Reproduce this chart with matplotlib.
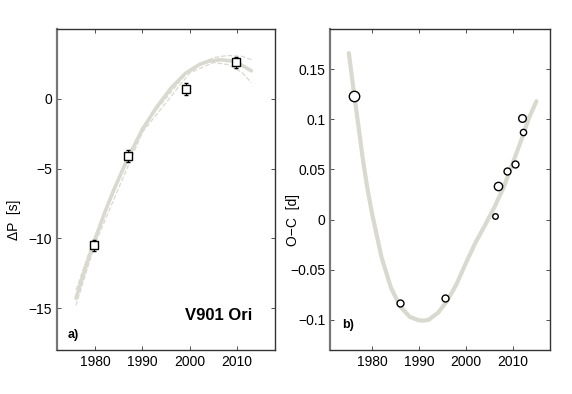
import matplotlib.pyplot as plt
import matplotlib.ticker as mticker

plt.rcParams['font.family'] = ['Liberation Sans', 'DejaVu Sans']

# panel a) period change, with quadratic fit and its band
yrA = [1979.8, 1987.0, 1999.3, 2009.7]
dP = [-10.5, -4.1, 0.7, 2.6]
dPerr = [0.4, 0.4, 0.4, 0.4]

fitA_x = [1976, 1978, 1980, 1982, 1984, 1987, 1990, 1993, 1996, 1999, 2002, 2004, 2006.5, 2009, 2011, 2013]
fitA_y = [-14.3, -12.1, -10.1, -8.2, -6.5, -4.2, -2.2, -0.6, 0.75, 1.8, 2.45, 2.7, 2.8, 2.7, 2.4, 2.0]
bandA_x = [1976, 1980, 1990, 2000, 2005, 2008, 2011, 2013]
bandA_hi = [-13.7, -9.8, -2.0, 2.1, 2.95, 3.1, 3.05, 2.8]
bandA_lo = [-14.8, -10.4, -2.4, 1.85, 2.6, 2.45, 1.9, 1.15]

# panel b) O-C diagram
yrB = [1976.2, 1986.0, 1995.5, 2006.2, 2006.9, 2008.8, 2010.5, 2011.9, 2012.2]
oc = [0.123, -0.083, -0.078, 0.004, 0.033, 0.048, 0.055, 0.101, 0.087]
msB = [7.5, 5, 5, 4, 6, 5, 5, 5.5, 4.5]

fitB_x = [1975, 1976, 1977, 1978, 1979, 1980, 1982, 1984, 1986, 1988, 1990, 1991, 1992, 1994,
          1996, 1998, 2000, 2002, 2004, 2006, 2008, 2010, 2012, 2013.3, 2015]
fitB_y = [0.166, 0.130, 0.095, 0.060, 0.030, 0.005, -0.038, -0.068, -0.087, -0.097, -0.1005, -0.1007,
          -0.100, -0.093, -0.081, -0.064, -0.043, -0.023, -0.006, 0.012, 0.032, 0.057, 0.082, 0.100, 0.118]

fitcol = '#d9d9cf'
axcol = '#333333'

fig = plt.figure(figsize=(5.72, 3.94), dpi=100)
axA = fig.add_axes([0.0997, 0.1117, 0.3813, 0.8147])
axB = fig.add_axes([0.577, 0.1117, 0.3854, 0.8147])

axA.plot(bandA_x, bandA_hi, '--', color=fitcol, lw=0.9)
axA.plot(bandA_x, bandA_lo, '--', color=fitcol, lw=0.9)
axA.plot(fitA_x, fitA_y, '-', color=fitcol, lw=2.6, solid_capstyle='round')
axA.errorbar(yrA, dP, yerr=dPerr, fmt='s', ms=6, mfc='white', mec='black', mew=1.0,
             ecolor='black', elinewidth=0.8, capsize=1.5, zorder=5)
axA.set_xlim(1972, 2018)
axA.set_ylim(-18, 5)
axA.set_xticks([1980, 1990, 2000, 2010])
axA.set_yticks([-15, -10, -5, 0])
axA.set_ylabel('ΔP  [s]', fontsize=10)
axA.yaxis.set_label_coords(-0.163, 0.405)
axA.text(0.894, 0.109, 'V901 Ori', transform=axA.transAxes, ha='right', va='center',
         fontsize=12, fontweight='bold')
axA.text(0.05, 0.048, 'a)', transform=axA.transAxes, ha='left', va='center',
         fontsize=9, fontweight='bold')

axB.plot(fitB_x, fitB_y, '-', color=fitcol, lw=3, solid_capstyle='round')
for x, y, m in zip(yrB, oc, msB):
    axB.plot(x, y, 'o', ms=m, mfc='white', mec='black', mew=1.0, zorder=5)
axB.set_xlim(1971, 2018)
axB.set_ylim(-0.13, 0.19)
axB.set_xticks([1980, 1990, 2000, 2010])
axB.set_yticks([-0.1, -0.05, 0, 0.05, 0.1, 0.15])
axB.yaxis.set_major_formatter(mticker.FuncFormatter(lambda v, p: ('%g' % v).replace('-', '\u2212')))
axB.set_ylabel('O\u2212C  [d]', fontsize=10)
axB.yaxis.set_label_coords(-0.137, 0.405)
axB.text(0.055, 0.078, 'b)', transform=axB.transAxes, ha='left', va='center',
         fontsize=9, fontweight='bold')

for ax in (axA, axB):
    ax.tick_params(direction='in', length=3, width=0.6, labelsize=10, top=True, right=True,
                   color=axcol)
    for s in ax.spines.values():
        s.set_color(axcol)
        s.set_linewidth(1.0)
    ax.spines['left'].set_color('#777777')
    ax.spines['left'].set_linewidth(1.6)

fig.savefig('out.png', dpi=100)
